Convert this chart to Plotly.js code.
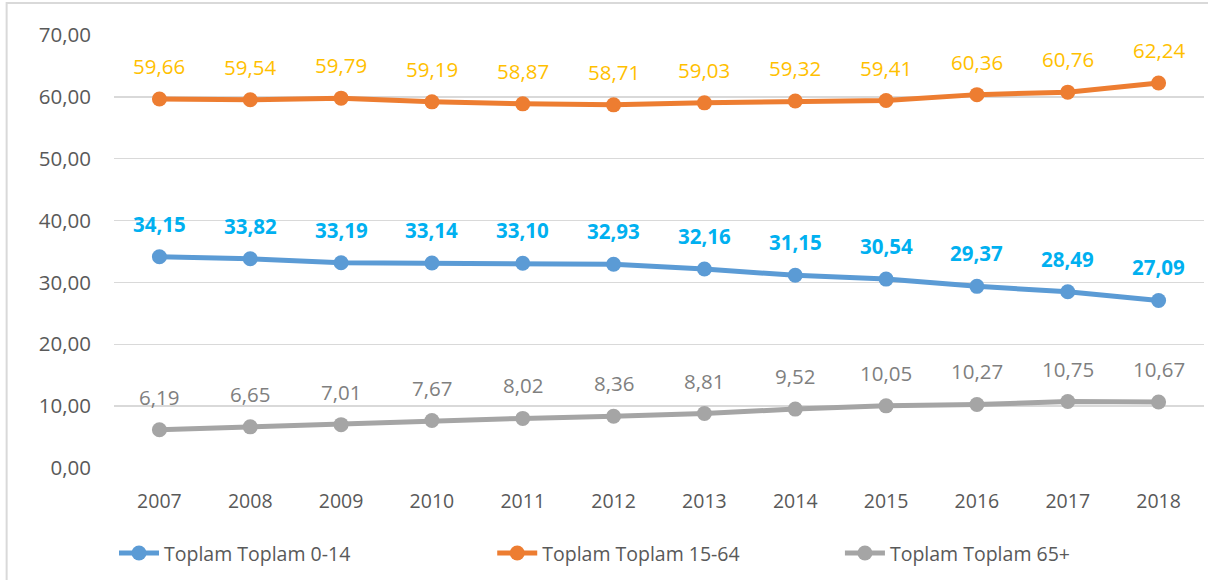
<!DOCTYPE html>
<html>
<head>
<meta charset="utf-8">
<script src="https://cdn.plot.ly/plotly-3.0.1.min.js"></script>
<style>
html,body{margin:0;padding:0;background:#fff;}
#chart{width:1208px;height:580px;}
</style>
</head>
<body>
<div id="chart"></div>
<script>
const years = ['2007','2008','2009','2010','2011','2012','2013','2014','2015','2016','2017','2018'];
const age0_14 = [34.15, 33.82, 33.19, 33.14, 33.10, 32.93, 32.16, 31.15, 30.54, 29.37, 28.49, 27.09];
const age15_64 = [59.66, 59.54, 59.79, 59.19, 58.87, 58.71, 59.03, 59.32, 59.41, 60.36, 60.76, 62.24];
const age65 = [6.19, 6.65, 7.01, 7.67, 8.02, 8.36, 8.81, 9.52, 10.05, 10.27, 10.75, 10.67];
const names = ['Toplam Toplam 0-14', 'Toplam Toplam 15-64', 'Toplam Toplam 65+'];
const yTicks = [0, 10, 20, 30, 40, 50, 60, 70];

const FONT = 'Open Sans, Calibri, sans-serif';
const series = [
  {y: age0_14, name: names[0], color: '#5B9BD5', label: '#00B0F0', bold: true, legend: 'legend'},
  {y: age15_64, name: names[1], color: '#ED7D31', label: '#FFC000', bold: false, legend: 'legend2'},
  {y: age65, name: names[2], color: '#A5A5A5', label: '#7F7F7F', bold: false, legend: 'legend3'}
];

const traces = series.map(s => ({
  type: 'scatter', mode: 'lines+markers', x: years, y: s.y, name: s.name,
  line: {color: s.color, width: 5},
  marker: {color: s.color, size: 15},
  legend: s.legend,
  hoverinfo: 'skip'
}));

const fmt = v => v.toFixed(2).replace('.', ',');
const annotations = [];
series.forEach(s => {
  s.y.forEach((v, i) => {
    annotations.push({
      x: i, y: v, xref: 'x', yref: 'y',
      text: s.bold ? '<b>' + fmt(v) + '</b>' : fmt(v),
      showarrow: false, yanchor: 'middle', xanchor: 'center', yshift: 33,
      font: {family: FONT, size: 20.5, color: s.label}
    });
  });
});

const legendBase = {
  orientation: 'h', yanchor: 'middle', y: -0.197, xanchor: 'left',
  font: {family: FONT, size: 19.5, color: '#595959'},
  bgcolor: 'rgba(0,0,0,0)', itemwidth: 40
};

const layout = {
  width: 1208, height: 580,
  margin: {l: 113.5, r: 3.5, t: 35, b: 112},
  paper_bgcolor: '#ffffff', plot_bgcolor: '#ffffff',
  separators: ',.',
  showlegend: true,
  xaxis: {
    type: 'category', range: [-0.5, 11.5], showgrid: false, zeroline: false,
    showline: false, ticks: '', ticklabelstandoff: 19,
    tickfont: {family: FONT, size: 19.5, color: '#595959'}, fixedrange: true
  },
  yaxis: {
    range: [0, 70], tickvals: yTicks, tickformat: '.2f',
    showgrid: true, gridcolor: '#D9D9D9', gridwidth: 1.5,
    zeroline: false, showline: false, ticks: '', ticklabelstandoff: 22,
    tickfont: {family: FONT, size: 20.5, color: '#595959'}, fixedrange: true
  },
  legend: Object.assign({}, legendBase, {x: 0.0}),
  legend2: Object.assign({}, legendBase, {x: 0.347}),
  legend3: Object.assign({}, legendBase, {x: 0.666}),
  annotations: annotations,
  shapes: [{
    type: 'rect', xref: 'paper', yref: 'paper',
    x0: -0.0985, x1: 1.05, y0: -0.3, y1: 1.0739,
    line: {color: '#D9D9D9', width: 2}, fillcolor: 'rgba(0,0,0,0)', layer: 'below'
  }]
};

Plotly.newPlot('chart', traces, layout, {displayModeBar: false, staticPlot: true});
</script>
</body>
</html>
